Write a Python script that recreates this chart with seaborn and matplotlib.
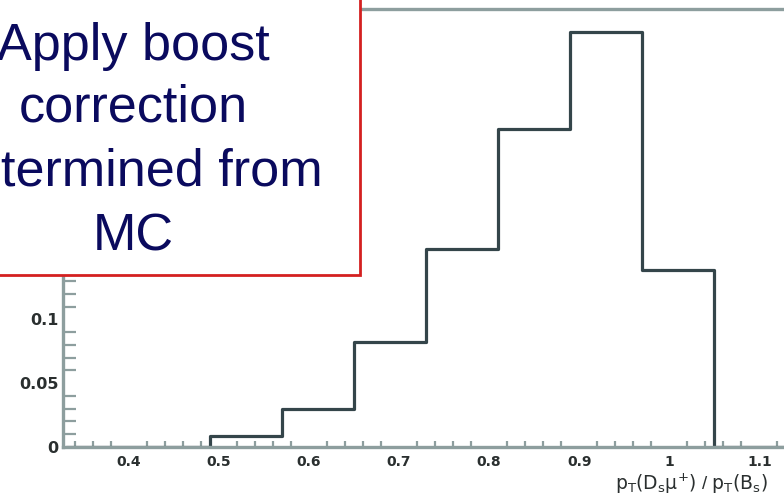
import numpy as np
import pandas as pd
import matplotlib
matplotlib.use("Agg")
import matplotlib.pyplot as plt
from matplotlib.ticker import MultipleLocator
from matplotlib.patches import Rectangle
import seaborn as sns

# Normalised boost-ratio distribution (bin width 0.08)
bin_edges = [0.33, 0.41, 0.49, 0.57, 0.65, 0.73, 0.81, 0.89, 0.97, 1.05, 1.13, 1.21]
bin_content = [0.0, 0.0, 0.0086, 0.030, 0.0825, 0.155, 0.249, 0.325, 0.139, 0.0, 0.0]
x_ticks = [0.4, 0.5, 0.6, 0.7, 0.8, 0.9, 1.0, 1.1]
x_tick_labels = ["0.4", "0.5", "0.6", "0.7", "0.8", "0.9", "1", "1.1"]
y_ticks = [0.0, 0.05, 0.1, 0.15, 0.2, 0.25, 0.3]
# upper labels sit under the note box, so they are left blank
y_tick_labels = ["0", "0.05", "0.1", "", "", "", ""]
note_lines = ["Apply boost", "correction", "determined from", "MC"]

centers = [(a + b) / 2 for a, b in zip(bin_edges[:-1], bin_edges[1:])]
df = pd.DataFrame({"ratio": centers, "w": bin_content})

sns.set_theme(style="white")
plt.rcParams["font.family"] = ["Liberation Sans", "DejaVu Sans"]

W, H = 784, 495
fig = plt.figure(figsize=(W / 100, H / 100), dpi=100)
fig.patch.set_facecolor("white")

# frame: left at 63 px, bottom at 447 px from top, top at 9 px from top
px_per_x = 901.0
x0, x1 = 0.327, 1.21
left = 63 / W
bottom = (H - 447) / H
height = (447 - 9) / H
width = (x1 - x0) * px_per_x / W
ax = fig.add_axes([left, bottom, width, height])
ax.set_facecolor("white")

sns.histplot(data=df, x="ratio", weights="w", bins=bin_edges, element="step",
             fill=False, stat="count", color="#34454a", linewidth=2.3, ax=ax)

ax.set_xlim(x0, x1)
ax.set_ylim(0, 0.343)
ax.set_xlabel("")
ax.set_ylabel("")

axis_col = "#8d9e9e"
for side in ["left", "bottom", "top", "right"]:
    ax.spines[side].set_color(axis_col)
    ax.spines[side].set_linewidth(2.4)

ax.set_xticks(x_ticks)
ax.set_xticklabels(x_tick_labels)
ax.set_yticks(y_ticks)
ax.set_yticklabels(y_tick_labels)
ax.xaxis.set_minor_locator(MultipleLocator(0.02))
ax.yaxis.set_minor_locator(MultipleLocator(0.01))
ax.tick_params(axis="x", which="major", direction="in", length=9, width=1.6,
               color=axis_col, labelsize=10, pad=6, labelcolor="#2a2f2f")
ax.tick_params(axis="x", which="minor", direction="in", length=4.5, width=1.6,
               color=axis_col, bottom=True)
ax.tick_params(axis="y", which="major", direction="in", length=16.5, width=1.6,
               color=axis_col, labelsize=11.5, pad=3, labelcolor="#2a2f2f")
ax.tick_params(axis="y", which="minor", direction="in", length=9, width=1.6,
               color=axis_col, left=True)
for lab in ax.get_xticklabels() + ax.get_yticklabels():
    lab.set_fontweight("bold")
    lab.set_fontfamily("DejaVu Sans")
ax.grid(False)

fig.text(615 / W, 1 - 484 / H,
         r"$\mathrm{p_{T}(D_{s}\mu^{+})}$ / $\mathrm{p_{T}(B_{s})}$",
         ha="left", va="center", fontsize=13.5, color="#2a2f2f")

# annotation box over the upper-left corner
box = Rectangle((-40 / W, 1 - 275 / H), (360 + 40) / W, (275 + 40) / H,
                transform=fig.transFigure, facecolor="white",
                edgecolor="#d42020", linewidth=2.0, zorder=10)
fig.patches.append(box)
baselines = [60, 122, 186, 250]
for line, yb in zip(note_lines, baselines):
    fig.text(133 / W, 1 - yb / H, line, ha="center", va="baseline",
             fontsize=37.5, color="#0a0a5e", zorder=11)

fig.savefig("out.png", dpi=100, facecolor="white")
